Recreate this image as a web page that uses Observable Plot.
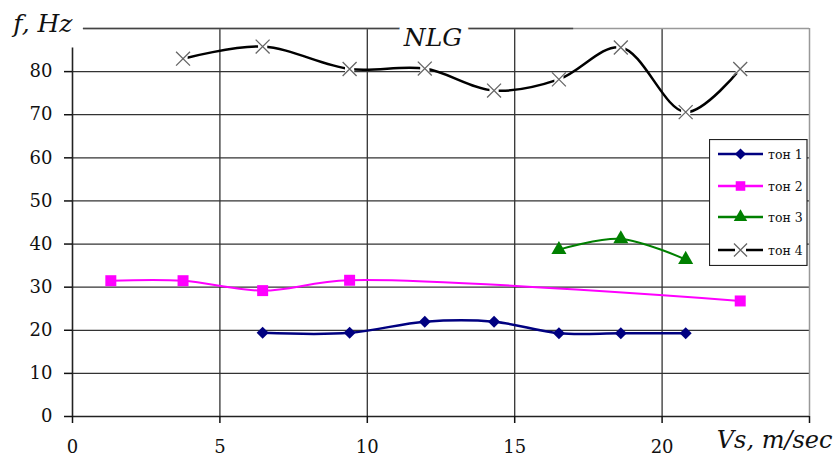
<!DOCTYPE html>
<html><head><meta charset="utf-8">
<script src="https://cdn.jsdelivr.net/npm/d3@7"></script>
<script src="https://cdn.jsdelivr.net/npm/@observablehq/plot@0.6"></script>
<style>body{margin:0;background:#fff} #wrap{position:relative;width:833px;height:457px}</style>
</head><body><div id="wrap"></div>
<script>
// ---- data ----
const seriesNames = ["тон 1", "тон 2", "тон 3", "тон 4"];
const vs1 = [6.45, 9.4, 11.95, 14.3, 16.5, 18.6, 20.8];
const f1  = [19.4, 19.4, 22.0, 22.0, 19.3, 19.3, 19.3];
const vs2 = [1.3, 3.75, 6.45, 9.4, 22.65];
const f2  = [31.5, 31.5, 29.2, 31.6, 26.8];
const vs3 = [16.5, 18.6, 20.8];
const f3  = [38.7, 41.2, 36.4];
const vs4 = [3.75, 6.45, 9.4, 11.95, 14.3, 16.5, 18.6, 20.8, 22.65];
const f4  = [83.0, 85.8, 80.6, 80.7, 75.6, 78.2, 85.6, 70.6, 80.6];
const xTicks = [0, 5, 10, 15, 20, 25];
const yTicks = [0, 10, 20, 30, 40, 50, 60, 70, 80];
const xGrid = [5, 10, 15, 20];
const yGrid = [10, 20, 30, 40, 50, 60, 70, 80];
const titleText = "NLG";
const yLabel = "f, Hz";
const xLabel = "Vs, m/sec";

const toRows = (xs, ys) => xs.map((x, i) => ({vs: x, f: ys[i]}));
const d1 = toRows(vs1, f1), d2 = toRows(vs2, f2), d3s = toRows(vs3, f3), d4 = toRows(vs4, f4);

const C1 = "#000080", C2 = "#ff00ff", C3 = "#008000", C4 = "#000000", CX = "#666";
const curve = "catmull-rom";

const chart = Plot.plot({
  width: 833, height: 457,
  marginLeft: 72, marginRight: 24, marginTop: 28, marginBottom: 41,
  style: {fontFamily: "DejaVu Serif", fontSize: "18px", color: "#111", background: "#fff", overflow: "visible"},
  x: {domain: [0, 25]},
  y: {domain: [0, 90]},
  marks: [
    Plot.ruleY(yGrid, {stroke: "#333", strokeWidth: 1.3}),
    Plot.ruleX(xGrid, {stroke: "#333", strokeWidth: 1.3}),
    Plot.ruleY([90], {x1: 0.37, x2: 25, stroke: "#999", strokeWidth: 1.3}),
    Plot.ruleY([90], {x1: 0.37, x2: 17, stroke: "#444", strokeWidth: 1.3}),
    Plot.ruleX([25], {stroke: "#999", strokeWidth: 1.5}),
    Plot.ruleX([0], {y1: 0, y2: 85.5, stroke: "#222", strokeWidth: 1.6}),
    Plot.ruleY([0], {stroke: "#222", strokeWidth: 1.6}),
    Plot.axisX({ticks: xTicks, tickSize: 7, tickPadding: 17, strokeWidth: 1.5,
      tickFormat: d => d === 25 ? "" : String(d), label: null, fontSize: 18}),
    Plot.axisY({ticks: yTicks, tickSize: 8, tickPadding: 12, strokeWidth: 1.5, label: null, fontSize: 18}),
    // series 1
    Plot.line(d1, {x: "vs", y: "f", stroke: C1, strokeWidth: 2.5, curve}),
    Plot.dot(d1, {x: "vs", y: "f", symbol: "diamond2", r: 5.4, fill: C1}),
    // series 2
    Plot.line(d2, {x: "vs", y: "f", stroke: C2, strokeWidth: 2, curve}),
    Plot.dot(d2, {x: "vs", y: "f", symbol: "square", r: 6.2, fill: C2}),
    // series 3
    Plot.line(d3s, {x: "vs", y: "f", stroke: C3, strokeWidth: 2, curve}),
    Plot.dot(d3s, {x: "vs", y: "f", symbol: "triangle", r: 5.6, fill: C3}),
    // series 4
    Plot.line(d4, {x: "vs", y: "f", stroke: C4, strokeWidth: 2.5, curve}),
    Plot.dot(d4, {x: "vs", y: "f", symbol: "square", r: 5.2, fill: "white"}),
    Plot.dot(d4, {x: "vs", y: "f", symbol: "times", r: 6.4, stroke: CX, strokeWidth: 1.3}),
    // texts
    Plot.text([titleText], {frameAnchor: "top", dx: -8, lineAnchor: "top", fontSize: 25, fontStyle: "italic",
      fill: "#111", stroke: "white", strokeWidth: 14, paintOrder: "stroke"}),
    Plot.text([yLabel], {frameAnchor: "top-left", textAnchor: "end", dx: 0, dy: -14, lineAnchor: "top",
      fontSize: 25, fontStyle: "italic", fill: "#111"}),
    Plot.text([xLabel], {frameAnchor: "bottom-right", textAnchor: "end", dx: 23, dy: 14, lineAnchor: "top",
      fontSize: 24, fontStyle: "italic", fill: "#111"})
  ]
});
const wrap = document.getElementById("wrap");
wrap.appendChild(chart);

// ---- legend ----
const legendItems = [
  {name: seriesNames[0], color: C1, sym: d3.symbolDiamond2, r: 5.0, fill: C1, stroke: null},
  {name: seriesNames[1], color: C2, sym: d3.symbolSquare, r: 5.4, fill: C2, stroke: null},
  {name: seriesNames[2], color: C3, sym: d3.symbolTriangle, r: 5.0, fill: C3, stroke: null},
  {name: seriesNames[3], color: C4, sym: d3.symbolTimes, r: 6.0, fill: "none", stroke: CX}
];
const rowY = [15, 47, 78, 111];
const leg = d3.select(wrap).append("svg")
  .style("position", "absolute").style("left", "709px").style("top", "139px")
  .attr("width", 99).attr("height", 127);
leg.append("rect").attr("x", 0.5).attr("y", 0.5).attr("width", 97.5).attr("height", 126)
  .attr("fill", "white").attr("stroke", "#222").attr("stroke-width", 1.2);
legendItems.forEach((it, i) => {
  const g = leg.append("g").attr("transform", `translate(0,${rowY[i]})`);
  g.append("line").attr("x1", 9).attr("x2", 54).attr("stroke", it.color).attr("stroke-width", 2.5);
  if (it.stroke) {
    g.append("rect").attr("x", 26).attr("y", -5.5).attr("width", 11).attr("height", 11).attr("fill", "white");
  }
  g.append("path").attr("transform", "translate(31.5,0)")
    .attr("d", d3.symbol(it.sym, it.r * it.r * Math.PI)())
    .attr("fill", it.fill).attr("stroke", it.stroke || "none").attr("stroke-width", 1.3);
  g.append("text").attr("x", 59).attr("y", 4.5).attr("font-family", "DejaVu Serif").attr("font-size", 12.5)
    .attr("fill", "#111").text(it.name);
});
</script></body></html>
